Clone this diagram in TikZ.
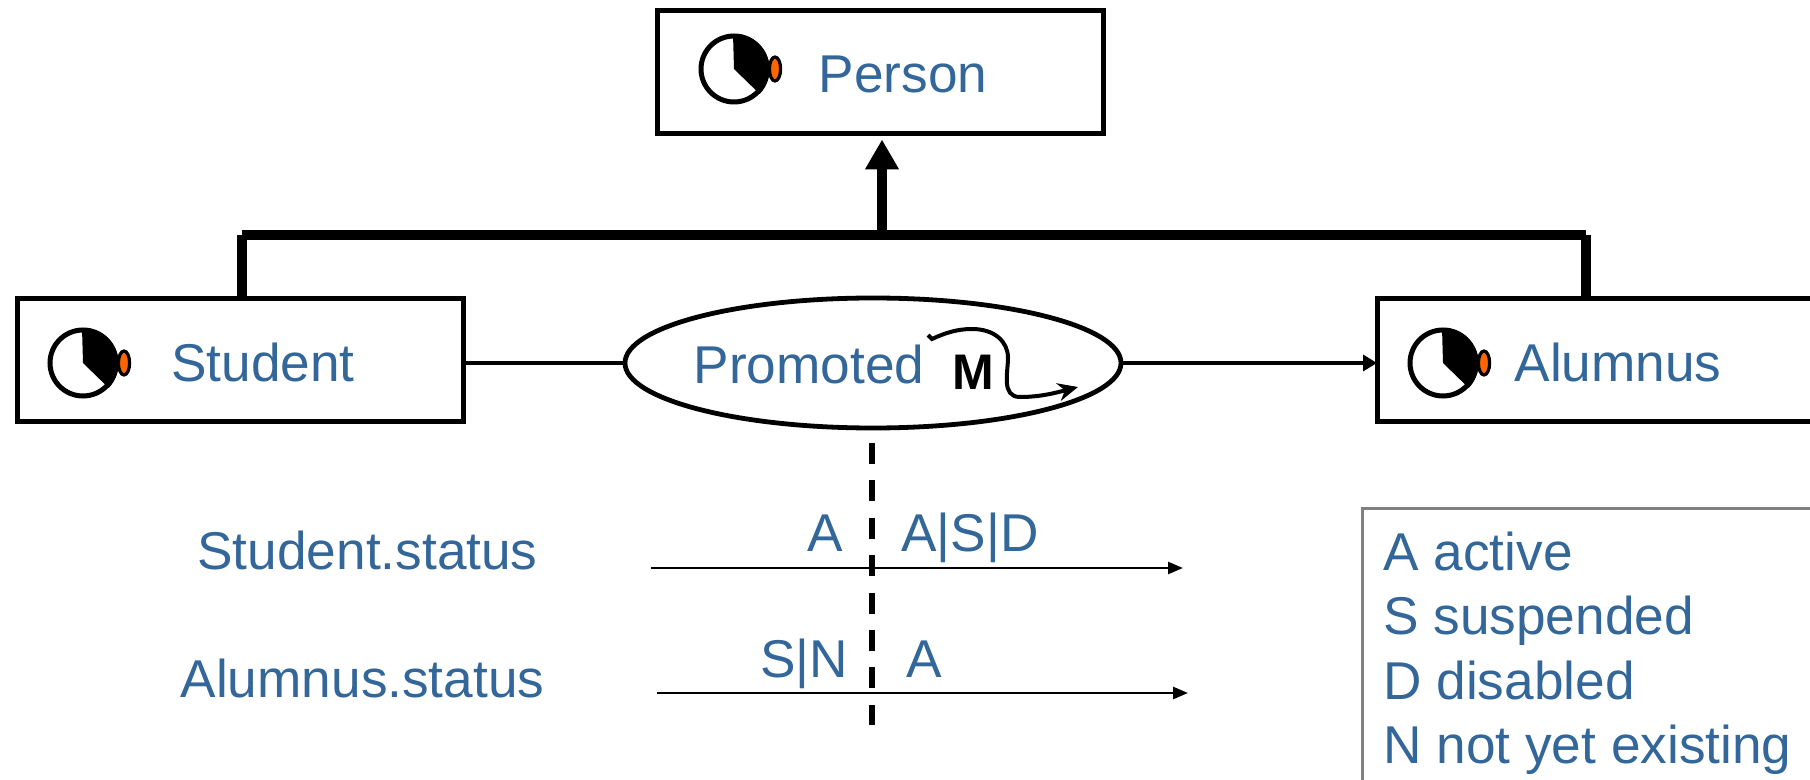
\documentclass[tikz,border=0pt]{standalone}
\usepackage{fontspec}
\setmainfont{Liberation Sans}
\usetikzlibrary{positioning,shapes.geometric,arrows.meta,calc}
\definecolor{labelblue}{HTML}{336699}
\definecolor{earorange}{HTML}{FF6600}
\tikzset{
    classbox/.style={draw, line width=2.5pt, fill=white, minimum width=223pt, minimum height=61.5pt, inner sep=0pt, outer sep=0pt},
    statenode/.style={draw, ellipse, line width=2.4pt, fill=white, minimum width=248pt, minimum height=65pt, inner sep=0pt, outer sep=0pt},
    lbl/.style={text=labelblue, inner sep=0pt, font=\fontsize{26.6}{32.2}\selectfont},
    inherit/.style={line width=5pt},
    timeline/.style={line width=1.3pt, -{Triangle[length=7.5pt,width=6pt]}},
    clockicon/.pic={
        \draw[line width=2.5pt, fill=white] (0,0) circle[radius=16.5pt];
        \fill (0,0) -- (-1,-35) arc[start angle=92, end angle=-44, radius=17.7pt] -- cycle;
        \draw[line width=1.6pt, fill=earorange] (41,0) ellipse[x radius=2.8pt, y radius=6pt];
    }
}
\begin{document}
\begin{tikzpicture}[x=0.5pt,y=-0.5pt]
    \useasboundingbox (0,0) rectangle (1810,780);
    \clip (0,0) rectangle (1810,780);
    \node[classbox] (person) at (880,72) {};
    \node[classbox] (student) at (240,360.5) {};
    \node[statenode, right=81pt of student.east, yshift=-1.25pt] (promoted) {};
    \node[classbox, right=457pt of student.east] (alumnus) {};
    \node[draw=gray, line width=1.4pt, anchor=north west, minimum width=300pt, minimum height=170pt, inner sep=0pt] (legendbox) at (1361,507) {};
    % icons and names
    \pic at (734,69) {clockicon};
    \pic at (83,363) {clockicon};
    \pic at (1443,363) {clockicon};
    \node[lbl] (personname) at (903,74) {Person};
    \node[lbl] (studentname) at (263,362) {Student};
    \node[lbl] (alumnusname) at (1618,362) {Alumnus};
    \node[lbl] (promotedname) at (809,364) {Promoted};
    \node[inner sep=0pt, font=\fontsize{25}{29}\bfseries\selectfont] (mname) at (973,372) {M};
    \draw[line width=2pt, -{Stealth[length=10pt,width=9pt]}] (928,335) -- (932,339) .. controls (945,333) and (957,329) .. (972,329)
        .. controls (995,329) and (1008,342) .. (1008,358) .. controls (1008,372) and (1001,397) .. (1020,397)
        .. controls (1040,397) and (1055,393) .. (1078,387);
    % generalisation
    \coordinate (busleft) at ($(student.north)+(2,-64)$);
    \coordinate (busright) at ($(alumnus.north)+(-14,-64)$);
    \coordinate (busmid) at (busleft -| person.south);
    \draw[inherit] (busleft) -- (busright);
    \draw[inherit] (busleft) -- (busleft |- student.north);
    \draw[inherit] (busright) -- (busright |- alumnus.north);
    \draw[inherit, -{Triangle[length=15pt,width=16pt]}] ([xshift=1pt]busmid) -- ([xshift=1pt,yshift=-3pt]person.south);
    \draw[line width=2pt] (student.east |- promoted.west) -- (promoted.west);
    \draw[line width=2pt, -{Triangle[length=7pt,width=8pt]}] (promoted.east) -- (promoted.east -| alumnus.west);
    % status lines
    \node[lbl] (studentstatus) at (367.5,550) {Student.status};
    \node[lbl] (alumnusstatus) at (362.5,678) {Alumnus.status};
    \coordinate (sstart) at (651,568);
    \coordinate (send) at (1183,568);
    \coordinate (astart) at (657,693);
    \coordinate (aend) at (1188,693);
    \draw[timeline] (sstart) -- (send);
    \draw[timeline] (astart) -- (aend);
    \coordinate (cuttop) at (872,443);
    \coordinate (cutbottom) at (872,725);
    \draw[line width=3pt, dash pattern=on 10.5pt off 8.2pt] (cuttop) -- (cutbottom);
    \node[lbl, anchor=base] (sbefore) at (825,552) {A};
    \node[lbl, anchor=base] (safter) at (970,552) {A|S|D};
    \node[lbl, anchor=base] (abefore) at (804,677) {S|N};
    \node[lbl, anchor=base] (aafter) at (924,677) {A};
    % legend
    \node[lbl, anchor=north west, align=left] (legend) at (1383,531.5) {A active\\S suspended\\D disabled\\N not yet existing};
\end{tikzpicture}
\end{document}
